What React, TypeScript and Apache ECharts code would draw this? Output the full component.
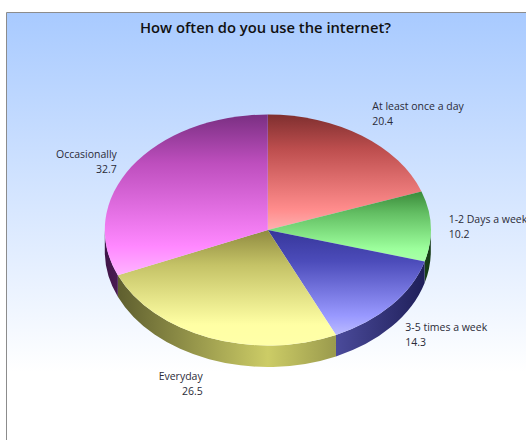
import React, { useEffect, useRef } from "react";
import * as echarts from "echarts";

const categories = ["At least once a day", "1-2 Days a week", "3-5 times a week", "Everyday", "Occasionally"];
const shares = [20.4, 10.2, 14.3, 26.5, 32.7];

// Face shading per slice: dark rim, mid tone, full colour, highlight.
const faceDark = ["#7f2f2f", "#3a8a3a", "#36369a", "#8f8a40", "#7a2f82"];
const faceMid = ["#bd4e4e", "#62bd62", "#4c4cba", "#c4c266", "#bd4ebd"];
const faceBase = ["#ff8c8c", "#9cff9c", "#9999ff", "#ffffa4", "#ff88ff"];
const faceLight = ["#ffb0b0", "#aaffaa", "#bbbbff", "#ffffa8", "#ffb4ff"];
// Wall shading per slice: edge of the pie, then its front centre.
const wallDark = ["#4d1c1c", "#153a15", "#1c1c55", "#55552a", "#3f1548"];
const wallBright = ["#cc6666", "#77cc77", "#6c6ccc", "#cccc66", "#cc66cc"];

const CX = 267.8;
const CY = 230;
const RX = 163;
const RY = 115.5;
const DEPTH = 21.5;

// Label block anchors, relative to the point at 1.11 radius along each slice's middle.
const labelDy = [-28, -14, 7, 20, -13];

const total = shares.reduce((a, b) => a + b, 0);
const pt = (deg: number, dy = 0) => {
  const t = (deg * Math.PI) / 180;
  return [CX + RX * Math.sin(t), CY - RY * Math.cos(t) + dy];
};

function renderSlice(params: any, api: any) {
  const i = params.dataIndex;
  const start = (shares.slice(0, i).reduce((a, b) => a + b, 0) / total) * 360;
  const end = start + (api.value(1) / total) * 360;
  const large = end - start > 180 ? 1 : 0;
  const [x0, y0] = pt(start);
  const [x1, y1] = pt(end);
  const children: any[] = [];

  // The wall shows only on the front half of the ellipse.
  const ws = Math.max(start, 90);
  const we = Math.min(end, 270);
  if (we > ws) {
    const [a0, b0] = pt(ws);
    const [a1, b1] = pt(we);
    children.push({
      type: "path",
      shape: {
        pathData: `M${a0} ${b0}A${RX} ${RY} 0 0 1 ${a1} ${b1}L${a1} ${b1 + DEPTH}A${RX} ${RY} 0 0 0 ${a0} ${b0 + DEPTH}Z`,
      },
      style: {
        fill: new echarts.graphic.LinearGradient(
          CX - RX,
          0,
          CX + RX,
          0,
          [
            { offset: 0, color: wallDark[i] },
            { offset: 0.5, color: wallBright[i] },
            { offset: 1, color: wallDark[i] },
          ],
          true
        ),
      },
    });
  }

  children.push({
    type: "path",
    shape: {
      pathData: `M${CX} ${CY}L${x0} ${y0}A${RX} ${RY} 0 ${large} 1 ${x1} ${y1}Z`,
    },
    style: {
      fill: new echarts.graphic.LinearGradient(0, 0, 0, 1, [
        { offset: 0, color: faceDark[i] },
        { offset: 0.3, color: faceMid[i] },
        { offset: 0.82, color: faceBase[i] },
        { offset: 1, color: faceLight[i] },
      ]),
    },
  });

  const mid = ((start + end) / 2) * (Math.PI / 180);
  const lx = CX + 1.11 * RX * Math.sin(mid);
  const ly = CY - 1.1 * RY * Math.cos(mid) + labelDy[i];
  const onRight = Math.sin(mid) > 0;
  children.push({
    type: "text",
    style: {
      x: lx,
      y: ly,
      text: `${categories[i]}\n${api.value(1)}`,
      fill: "#2b2b38",
      font: "10.5px 'Open Sans'",
      lineHeight: 15,
      align: onRight ? "left" : "right",
      verticalAlign: "top",
    },
  });

  return { type: "group", children };
}

export default function App() {
  const ref = useRef<HTMLDivElement>(null);

  useEffect(() => {
    document.body.style.margin = "0";
    const chart = echarts.init(ref.current!, undefined, { renderer: "svg" });
    chart.setOption({
      animation: false,
      graphic: [
        {
          type: "rect",
          z: -1,
          shape: { x: 6.5, y: 12.5, width: 600, height: 500 },
          style: {
            stroke: "#8c8c8c",
            lineWidth: 1,
            fill: new echarts.graphic.LinearGradient(
              0,
              12,
              0,
              372,
              [
                { offset: 0, color: "#a8caff" },
                { offset: 1, color: "#ffffff" },
              ],
              true
            ),
          },
        },
      ],
      title: {
        text: "How often do you use the internet?",
        left: 265.5,
        top: 19,
        textAlign: "center",
        padding: 0,
        textStyle: { fontFamily: "'Open Sans'", fontSize: 14.75, fontWeight: 600, color: "#111111" },
      },
      series: [
        {
          type: "custom",
          coordinateSystem: "none",
          renderItem: renderSlice,
          silent: true,
          data: shares.map((v, i) => [i, v]),
        },
      ],
    });
    return () => chart.dispose();
  }, []);

  return <div ref={ref} style={{ width: 526, height: 440 }} />;
}
